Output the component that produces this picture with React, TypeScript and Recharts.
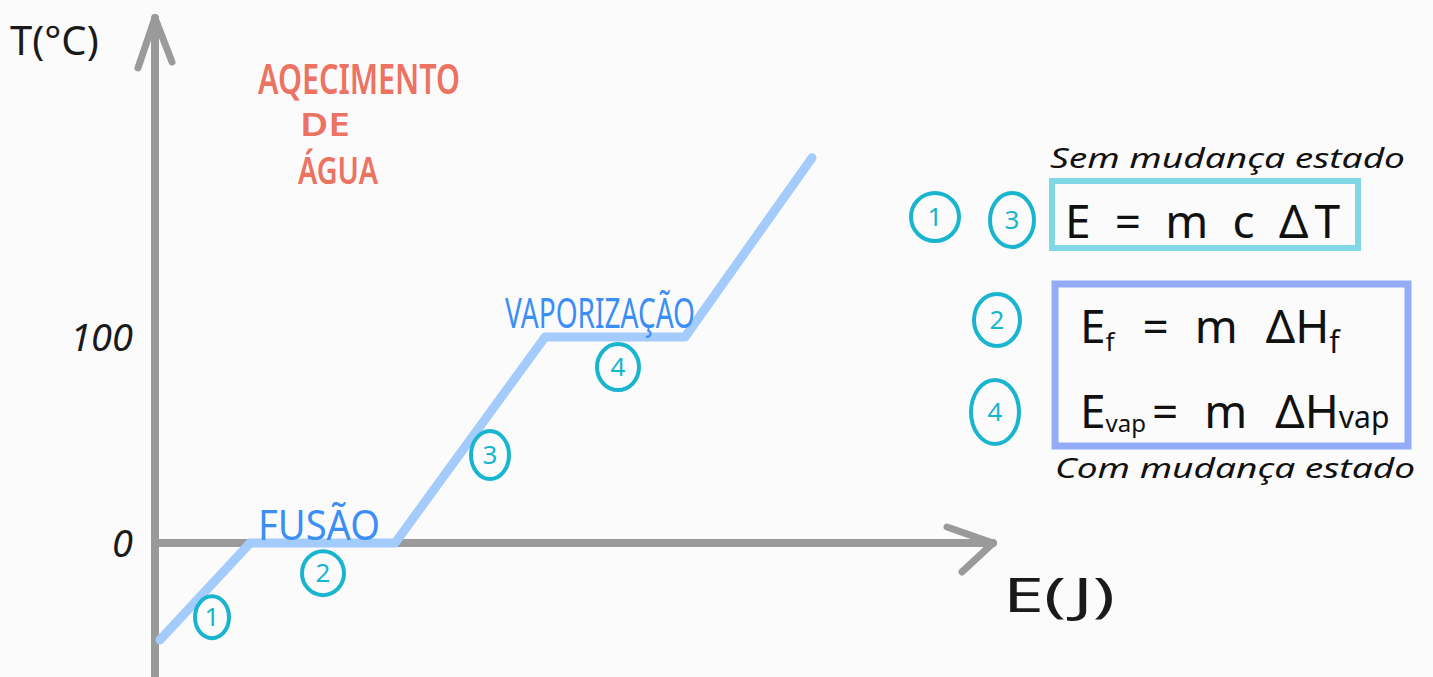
import { LineChart, Line, XAxis, YAxis, ReferenceLine, ReferenceDot } from "recharts";

// heating curve of water: energy (arbitrary units) vs temperature (°C)
const energy = [0.5, 9.5, 24, 39, 53, 65.7];
const temperature = [-47, 0, 0, 100, 100, 187];
const tempTicks = [0, 100];

// circled step numbers along the curve
const stepLabels = ["1", "2", "3", "4"];
const stepEnergy = [5.7, 16.8, 33.5, 46.3];
const stepTemp = [-36, -14.6, 42.7, 85.4];

// phase-change labels
const phaseNames = ["FUSÃO", "VAPORIZAÇÃO"];
const phaseEnergy = [10.3, 35];
const phaseTemp = [1.5, 104.5];
const phaseWidths = [122, 190];

const data = energy.map((e, i) => ({ e, t: temperature[i] }));

const AXIS = "#9a9a9a";
const CURVE = "#a3cbfb";
const CYAN = "#19b5cf";
const BLUE = "#3b8ef5";
const SALMON = "#ec7262";
const FONT = "'Noto Sans', 'DejaVu Sans', sans-serif";

const stepSizes = [
    [17, 21],
    [21, 22],
    [19, 24],
    [21, 23],
];

function Circled({ cx, cy, rx, ry, n }: { cx: number; cy: number; rx: number; ry: number; n: string }) {
    return (
        <g>
            <ellipse cx={cx} cy={cy} rx={rx} ry={ry} fill="none" stroke={CYAN} strokeWidth={4} />
            <text x={cx} y={cy + 9} textAnchor="middle" fontSize={26} fill={CYAN} fontFamily={FONT}>
                {n}
            </text>
        </g>
    );
}

export default function App() {
    return (
        <div style={{ position: "absolute", left: 0, top: 0, width: 1433, height: 677, background: "#fbfbfb", overflow: "hidden" }}>
            <LineChart width={1433} height={677} data={data} margin={{ top: 15, right: 438, bottom: 0, left: 0 }}>
                <XAxis dataKey="e" type="number" domain={[0, 84]} hide />
                <YAxis
                    type="number"
                    domain={[-65, 256.3]}
                    ticks={tempTicks}
                    width={155}
                    axisLine={false}
                    tickLine={false}
                    tick={{ fill: "#1a1a1a", fontSize: 38, fontStyle: "italic", fontFamily: FONT, dx: -14 }}
                />
                {/* axes with arrow heads */}
                <ReferenceLine segment={[{ x: 0, y: 0 }, { x: 83.8, y: 0 }]} stroke={AXIS} strokeWidth={8} strokeLinecap="round" ifOverflow="visible" />
                <ReferenceLine segment={[{ x: 79.2, y: 7.8 }, { x: 83.8, y: 0 }]} stroke={AXIS} strokeWidth={7} strokeLinecap="round" ifOverflow="visible" />
                <ReferenceLine segment={[{ x: 80.7, y: -14 }, { x: 83.8, y: 0 }]} stroke={AXIS} strokeWidth={7} strokeLinecap="round" ifOverflow="visible" />
                <ReferenceLine segment={[{ x: 0, y: -66 }, { x: 0, y: 254.9 }]} stroke={AXIS} strokeWidth={8} strokeLinecap="round" ifOverflow="visible" />
                <ReferenceLine segment={[{ x: -1.7, y: 230.6 }, { x: 0, y: 254.9 }]} stroke={AXIS} strokeWidth={7} strokeLinecap="round" ifOverflow="visible" />
                <ReferenceLine segment={[{ x: 1.7, y: 233.5 }, { x: 0, y: 254.9 }]} stroke={AXIS} strokeWidth={7} strokeLinecap="round" ifOverflow="visible" />
                <Line
                    dataKey="t"
                    stroke={CURVE}
                    strokeWidth={9}
                    strokeLinecap="round"
                    strokeLinejoin="round"
                    dot={false}
                    activeDot={false}
                    isAnimationActive={false}
                />
                {stepLabels.map((n, i) => (
                    <ReferenceDot
                        key={n}
                        x={stepEnergy[i]}
                        y={stepTemp[i]}
                        ifOverflow="visible"
                        shape={(p: any) => <Circled cx={p.cx} cy={p.cy} rx={stepSizes[i][0]} ry={stepSizes[i][1]} n={n} />}
                    />
                ))}
                {phaseNames.map((name, i) => (
                    <ReferenceDot
                        key={name}
                        x={phaseEnergy[i]}
                        y={phaseTemp[i]}
                        ifOverflow="visible"
                        shape={(p: any) => (
                            <text x={p.cx} y={p.cy} fontSize={42} fill={BLUE} fontFamily={FONT} textLength={phaseWidths[i]} lengthAdjust="spacingAndGlyphs">
                                {name}
                            </text>
                        )}
                    />
                ))}
            </LineChart>

            {/* hand-written notes around the plot */}
            <svg width={1433} height={677} style={{ position: "absolute", left: 0, top: 0, pointerEvents: "none" }}>
                <text x={10} y={55} fontSize={40} fill="#1a1a1a" fontFamily={FONT}>T(°C)</text>
                <text x={1003} y={612} fontSize={48} fill="#1a1a1a" fontFamily={FONT} textLength={112} lengthAdjust="spacingAndGlyphs">E(J)</text>

                <text x={258} y={94} fontSize={42} fill={SALMON} fontFamily={FONT} fontWeight={600} textLength={202} lengthAdjust="spacingAndGlyphs">AQECIMENTO</text>
                <text x={300} y={136} fontSize={32} fill={SALMON} fontFamily={FONT} fontWeight={600} textLength={50} lengthAdjust="spacingAndGlyphs">DE</text>
                <text x={298} y={184} fontSize={38} fill={SALMON} fontFamily={FONT} fontWeight={600} textLength={80} lengthAdjust="spacingAndGlyphs">ÁGUA</text>

                <text x={1050} y={168} fontSize={28} fill="#111" fontFamily={FONT} fontStyle="italic" textLength={355} lengthAdjust="spacingAndGlyphs">Sem mudança estado</text>
                <rect x={1052} y={181} width={306} height={67} fill="none" stroke="#7fd8e4" strokeWidth={6} />
                <text x={1065} y={238} fontSize={46} fill="#111" fontFamily={FONT} textLength={275} lengthAdjust="spacing">E = m c ΔT</text>

                <rect x={1055} y={284} width={353} height={162} fill="none" stroke="#94abf8" strokeWidth={7} />
                <text x={1080} y={343} fontSize={46} fill="#111" fontFamily={FONT}>
                    E<tspan fontSize={26} dy={8}>f</tspan>
                    <tspan dy={-8} dx={28}>=</tspan>
                    <tspan dx={26}>m</tspan>
                    <tspan dx={28}>ΔH</tspan>
                    <tspan fontSize={30} dy={10}>f</tspan>
                </text>
                <text x={1080} y={428} fontSize={46} fill="#111" fontFamily={FONT}>
                    E<tspan fontSize={24} dy={4}>vap</tspan>
                    <tspan dy={-4} dx={6}>=</tspan>
                    <tspan dx={26}>m</tspan>
                    <tspan dx={28}>ΔH</tspan>
                    <tspan fontSize={30}>vap</tspan>
                </text>
                <text x={1055} y={478} fontSize={28} fill="#111" fontFamily={FONT} fontStyle="italic" textLength={360} lengthAdjust="spacingAndGlyphs">Com mudança estado</text>

                <Circled cx={935} cy={217} rx={24} ry={24} n="1" />
                <Circled cx={1012} cy={220} rx={22} ry={27} n="3" />
                <Circled cx={997} cy={320} rx={23} ry={26} n="2" />
                <Circled cx={995} cy={412} rx={24} ry={32} n="4" />
            </svg>
        </div>
    );
}
